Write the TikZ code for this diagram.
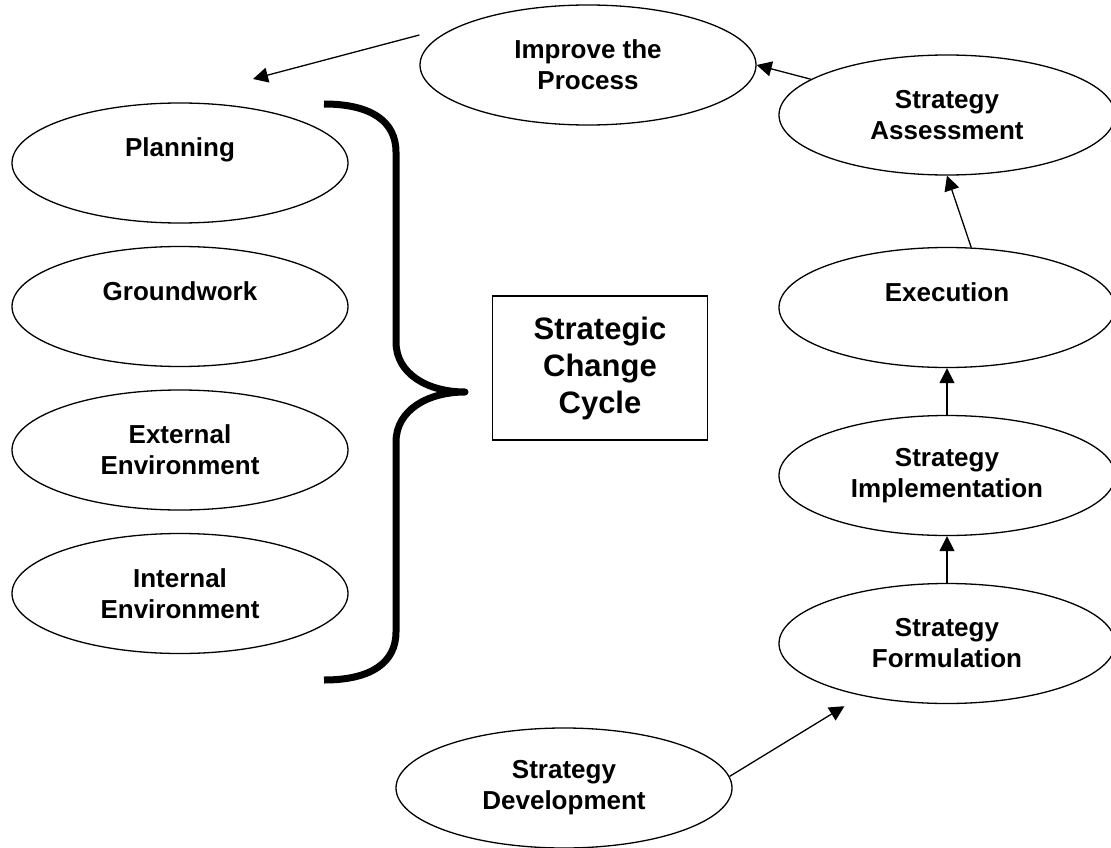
\documentclass[tikz,border=0pt]{standalone}
\usepackage{fontspec}
\setmainfont{Liberation Sans}
\usetikzlibrary{shapes.geometric, arrows.meta}
\tikzstyle{stage} = [ellipse, draw, line width=1.3pt, minimum width=336pt, minimum height=120pt, inner sep=0pt, font=\fontsize{26}{31}\selectfont\bfseries]
\tikzstyle{single} = [stage, text height=20pt, text depth=33pt]
\tikzstyle{twoline} = [stage, align=center]
\tikzstyle{hub} = [draw, line width=1.8pt, minimum width=215pt, minimum height=144pt, align=center, font=\fontsize{31}{37}\selectfont\bfseries]
\tikzstyle{arr} = [-{Triangle[length=15pt, width=15pt]}, line width=1.3pt]
\tikzstyle{bracket} = [line width=7pt, line join=round]

\begin{document}
\begin{tikzpicture}[x=1pt, y=-1pt, node distance=143.5pt]
        \useasboundingbox (0,0) rectangle (1111,848);
        \node (plan) [single] at (180,163) {Planning};
        \node (ground) [single, below of=plan] {Groundwork};
        \node (ext) [twoline, below of=ground] {External\\Environment};
        \node (int) [twoline, below of=ext] {Internal\\Environment};
        \node (cycle) [hub] at (600,368) {Strategic\\Change\\Cycle};
        \node (imp) [twoline] at (588,65) {Improve the\\Process};
        \node (assess) [twoline] at (947,115) {Strategy\\Assessment};
        \node (exec) [single, below of=assess, yshift=-49pt] {Execution};
        \node (impl) [twoline, below of=exec, yshift=-24.5pt] {Strategy\\Implementation};
        \node (form) [twoline, below of=impl, yshift=-24.5pt] {Strategy\\Formulation};
        \node (dev) [twoline] at (564,788) {Strategy\\Development};
        \coordinate (back) at (253,79);
        % brace gathering the left column
        \draw [bracket] (324,104) .. controls (372,104) and (396,122) .. (396,152)
            -- (396,342) .. controls (396,374) and (428,392) .. (465,392)
            .. controls (428,392) and (396,410) .. (396,442)
            -- (396,632) .. controls (396,662) and (372,680) .. (324,680);
        \draw [arr] (dev.4) -- (form) [shorten >=20pt];
        \draw [arr] (form) -- (impl);
        \draw [arr] (impl) -- (exec);
        \draw [arr] (exec.68) -- (assess.south);
        \draw [arr] (assess) -- (imp.east);
        \draw [arr] ([yshift=30pt]imp.west) -- (back);
    \end{tikzpicture}
\end{document}
